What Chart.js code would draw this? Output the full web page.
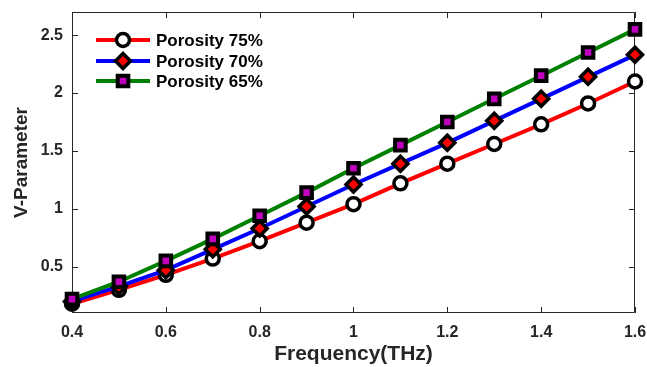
<!DOCTYPE html>
<html>
<head>
<meta charset="utf-8">
<script src="https://cdn.jsdelivr.net/npm/chart.js@4/dist/chart.umd.min.js"></script>
<style>
  html, body { margin: 0; padding: 0; background: #fff; }
  #wrap { width: 647px; height: 367px; }
</style>
</head>
<body>
<div id="wrap"><canvas id="myChart" width="647" height="367"></canvas></div>
<script>
const freqs = [0.4, 0.5, 0.6, 0.7, 0.8, 0.9, 1.0, 1.1, 1.2, 1.3, 1.4, 1.5, 1.6];
const porosity75 = [0.18, 0.30, 0.43, 0.57, 0.72, 0.88, 1.04, 1.22, 1.39, 1.56, 1.73, 1.91, 2.10];
const porosity70 = [0.20, 0.33, 0.47, 0.65, 0.83, 1.02, 1.21, 1.39, 1.57, 1.76, 1.95, 2.14, 2.33];
const porosity65 = [0.22, 0.37, 0.55, 0.74, 0.94, 1.14, 1.35, 1.55, 1.75, 1.95, 2.15, 2.35, 2.55];
const seriesNames = ['Porosity 75%', 'Porosity 70%', 'Porosity 65%'];
const xTicks = [0.4, 0.6, 0.8, 1.0, 1.2, 1.4, 1.6];
const yTicks = [0.5, 1, 1.5, 2, 2.5];

const axisColor = '#262626';
const fontFamily = '"Liberation Sans", Arial, sans-serif';

function toPoints(values) {
  return values.map((v, i) => ({ x: freqs[i], y: v }));
}

// draws one legend marker by hand
function drawMarker(ctx, style, x, y, ds) {
  ctx.save();
  ctx.fillStyle = ds.pointBackgroundColor;
  ctx.strokeStyle = ds.pointBorderColor;
  ctx.lineWidth = ds.pointBorderWidth;
  const r = ds.pointRadius;
  ctx.beginPath();
  if (style === 'circle') {
    ctx.arc(x, y, r, 0, Math.PI * 2);
  } else if (style === 'rectRot') {
    ctx.moveTo(x, y - r);
    ctx.lineTo(x + r, y);
    ctx.lineTo(x, y + r);
    ctx.lineTo(x - r, y);
    ctx.closePath();
  } else {
    const s = r * Math.SQRT1_2;
    ctx.rect(x - s, y - s, 2 * s, 2 * s);
  }
  ctx.fill();
  ctx.stroke();
  ctx.restore();
}

// keep the scales from pushing the plot area inward for label overhang
function fixedSize(scale, prop, size) {
  scale[prop] = size;
  scale.paddingTop = 0;
  scale.paddingBottom = 0;
  scale.paddingLeft = 0;
  scale.paddingRight = 0;
}

// box around the plot with inward tick marks on all four sides
const boxPlugin = {
  id: 'box',
  beforeDatasetsDraw(chart) {
    const { ctx, chartArea: a, scales } = chart;
    const len = 6;
    ctx.save();
    ctx.strokeStyle = axisColor;
    ctx.lineWidth = 1;
    ctx.beginPath();
    ctx.rect(a.left + 0.5, a.top + 0.5, a.right - a.left - 1, a.bottom - a.top - 1);
    xTicks.forEach(t => {
      const px = Math.round(scales.x.getPixelForValue(t)) + 0.5;
      ctx.moveTo(px, a.bottom);
      ctx.lineTo(px, a.bottom - len);
      ctx.moveTo(px, a.top);
      ctx.lineTo(px, a.top + len);
    });
    yTicks.forEach(t => {
      const py = Math.round(scales.y.getPixelForValue(t)) + 0.5;
      ctx.moveTo(a.left, py);
      ctx.lineTo(a.left + len, py);
      ctx.moveTo(a.right, py);
      ctx.lineTo(a.right - len, py);
    });
    ctx.stroke();
    ctx.restore();
  },
  afterDraw(chart) {
    // legend inside the upper left corner
    const { ctx, chartArea: a } = chart;
    const x0 = a.left + 24;
    const x1 = a.left + 78;
    const rows = [a.top + 28, a.top + 49, a.top + 69];
    const styles = ['circle', 'rectRot', 'rect'];
    ctx.save();
    ctx.font = 'bold 17px ' + fontFamily;
    ctx.textBaseline = 'middle';
    chart.data.datasets.forEach((ds, i) => {
      const y = rows[i];
      ctx.strokeStyle = ds.borderColor;
      ctx.lineWidth = ds.borderWidth;
      ctx.beginPath();
      ctx.moveTo(x0, y);
      ctx.lineTo(x1, y);
      ctx.stroke();
      drawMarker(ctx, styles[i], (x0 + x1) / 2, y, ds);
      ctx.fillStyle = '#000';
      ctx.fillText(seriesNames[i], x1 + 6, y + 1);
    });
    ctx.restore();
  }
};

const ctx = document.getElementById('myChart').getContext('2d');
new Chart(ctx, {
  type: 'line',
  data: {
    datasets: [
      {
        label: seriesNames[0],
        data: toPoints(porosity75),
        borderColor: '#ff0000',
        borderWidth: 4,
        pointStyle: 'circle',
        pointRadius: 6.5,
        pointBorderWidth: 3.5,
        pointBackgroundColor: '#ffffff',
        pointBorderColor: '#000000',
        order: 3,
        clip: false,
      },
      {
        label: seriesNames[1],
        data: toPoints(porosity70),
        borderColor: '#0000ff',
        borderWidth: 4,
        pointStyle: 'rectRot',
        pointRadius: 7.5,
        pointBorderWidth: 3.5,
        pointBackgroundColor: '#ff0000',
        pointBorderColor: '#000000',
        order: 2,
        clip: false,
      },
      {
        label: seriesNames[2],
        data: toPoints(porosity65),
        borderColor: '#008000',
        borderWidth: 4,
        pointStyle: 'rect',
        pointRadius: 7.5,
        pointBorderWidth: 4,
        pointBackgroundColor: '#bf00bf',
        pointBorderColor: '#000000',
        order: 1,
        clip: false,
      },
    ],
  },
  options: {
    responsive: false,
    animation: false,
    layout: { padding: { top: 12, right: 12, left: 0, bottom: 0 } },
    plugins: {
      legend: { display: false },
      tooltip: { enabled: false },
    },
    scales: {
      x: {
        type: 'linear',
        min: 0.4,
        max: 1.6,
        grid: { display: false, drawTicks: false },
        border: { display: false },
        afterBuildTicks: scale => { scale.ticks = xTicks.map(v => ({ value: v })); },
        afterFit: scale => fixedSize(scale, 'height', 54),
        ticks: {
          padding: 10,
          color: axisColor,
          font: { family: fontFamily, size: 16, weight: 'bold' },
          callback: v => String(Math.round(v * 10) / 10),
        },
        title: {
          display: true,
          text: 'Frequency(THz)',
          color: axisColor,
          padding: { top: 0, bottom: 0 },
          font: { family: fontFamily, size: 21, weight: 'bold' },
        },
      },
      y: {
        min: 0.1,
        max: 2.7,
        grid: { display: false, drawTicks: false },
        border: { display: false },
        afterBuildTicks: scale => { scale.ticks = yTicks.map(v => ({ value: v })); },
        afterFit: scale => fixedSize(scale, 'width', 72),
        ticks: {
          padding: 9,
          color: axisColor,
          font: { family: fontFamily, size: 16, weight: 'bold' },
          callback: v => String(v),
        },
        title: {
          display: true,
          text: 'V-Parameter',
          color: axisColor,
          padding: { top: 10, bottom: 0 },
          font: { family: fontFamily, size: 19, weight: 'bold' },
        },
      },
    },
  },
  plugins: [boxPlugin],
});
</script>
</body>
</html>
